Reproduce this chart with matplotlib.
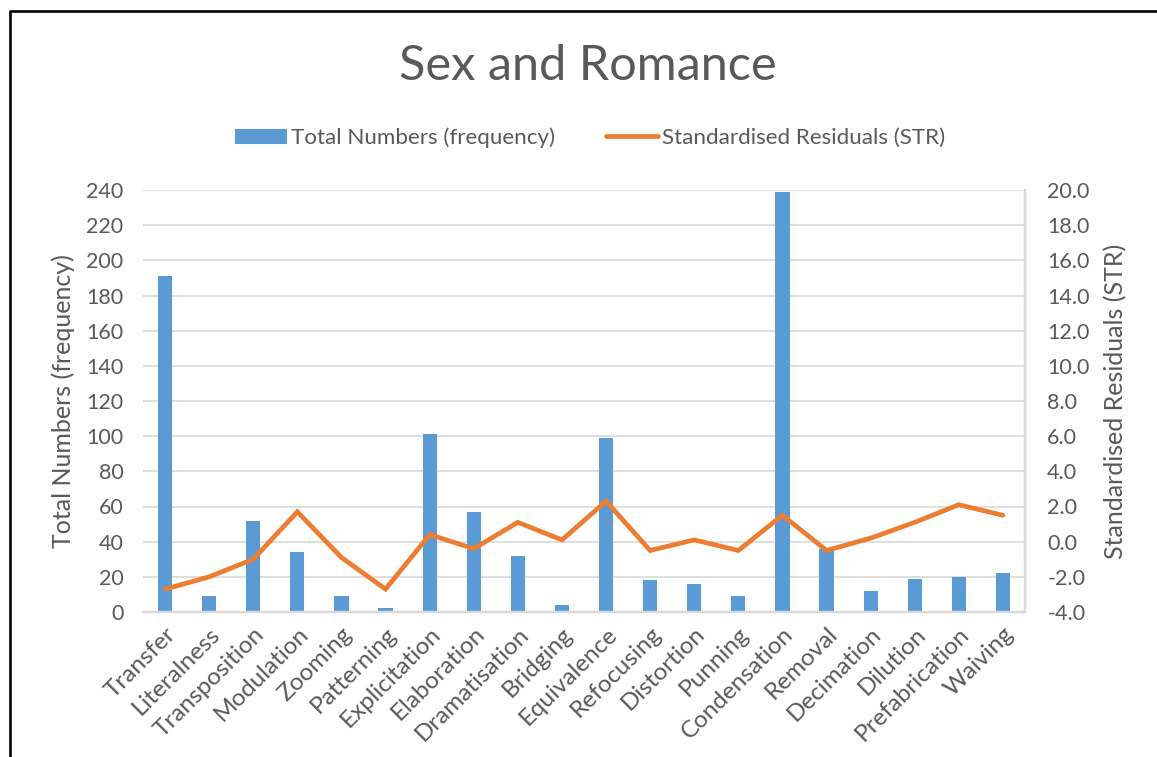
import matplotlib

matplotlib.use("Agg")
import matplotlib.pyplot as plt  # noqa: E402
from matplotlib.lines import Line2D  # noqa: E402
from matplotlib.ticker import FormatStrFormatter  # noqa: E402

categories = [
    "Transfer", "Literalness", "Transposition", "Modulation", "Zooming",
    "Patterning", "Explicitation", "Elaboration", "Dramatisation", "Bridging",
    "Equivalence", "Refocusing", "Distortion", "Punning", "Condensation",
    "Removal", "Decimation", "Dilution", "Prefabrication", "Waiving",
]
frequency = [191, 9, 52, 34, 9, 2, 101, 57, 32, 4, 99, 18, 16, 9, 239, 36, 12, 19, 20, 22]
residuals = [-2.7, -2.0, -1.0, 1.7, -0.9, -2.7, 0.4, -0.4, 1.1, 0.1,
             2.3, -0.5, 0.1, -0.5, 1.5, -0.5, 0.2, 1.1, 2.1, 1.5]

BLUE = "#5B9BD5"
ORANGE = "#ED7D31"
GREY_TEXT = "#595959"
GRID = "#D9D9D9"

plt.rcParams["font.family"] = ["Lato", "DejaVu Sans"]

W, H = 1157, 757
fig = plt.figure(figsize=(W / 100, H / 100), dpi=100)
ax = fig.add_axes([143 / W, 1 - 612 / H, (1025 - 143) / W, (612 - 190) / H])
ax2 = ax.twinx()

x = list(range(len(categories)))
bars = ax.bar(x, frequency, width=0.32, color=BLUE, zorder=2,
              label="Total Numbers (frequency)")
line, = ax2.plot(x, residuals, color=ORANGE, lw=3.4, solid_joinstyle="miter",
                 solid_capstyle="round", zorder=3,
                 label="Standardised Residuals (STR)")

ax.set_xlim(-0.5, len(categories) - 0.5)
ax.set_ylim(0, 240)
ax.set_yticks(range(0, 241, 20))
ax2.set_ylim(-4, 20)
ax2.set_yticks(range(-4, 21, 2))
ax2.yaxis.set_major_formatter(FormatStrFormatter("%.1f"))

ax.grid(axis="y", color=GRID, lw=1.2, zorder=0)
ax.set_axisbelow(True)
for a in (ax, ax2):
    for side in ("top", "left"):
        a.spines[side].set_visible(False)
    a.spines["bottom"].set_color(GRID)
    a.spines["bottom"].set_linewidth(1.6)
    a.spines["right"].set_color(GRID)
    a.spines["right"].set_linewidth(1.6)
    a.tick_params(length=0, colors=GREY_TEXT, labelsize=15.5)

ax.set_xticks(x)
ax.set_xticklabels(categories, rotation=45, ha="right", rotation_mode="anchor",
                   fontsize=17.5)
ax.tick_params(axis="x", pad=8)
ax.tick_params(axis="y", pad=14)
ax2.tick_params(axis="y", pad=16)

ax.set_ylabel("Total Numbers (frequency)", fontsize=18, color=GREY_TEXT, labelpad=8)
ax2.set_ylabel("Standardised Residuals (STR)", fontsize=18, color=GREY_TEXT, labelpad=10)

fig.text(588 / W, 1 - 66 / H, "Sex and Romance", ha="center", va="center",
         fontsize=35, color=GREY_TEXT)

leg = fig.legend(handles=[bars, line], loc="center", ncol=2,
                 bbox_to_anchor=(590 / W, 1 - 138 / H), frameon=False,
                 fontsize=16.1, handlelength=2.3, handletextpad=0.18,
                 columnspacing=2.3)
for t in leg.get_texts():
    t.set_color(GREY_TEXT)

# outer chart border
fig.add_artist(Line2D([10 / W, 10 / W, 1.0], [0.0, 1 - 11 / H, 1 - 11 / H],
                      transform=fig.transFigure, color="black", lw=1.9))

fig.savefig("out.png", dpi=100)
